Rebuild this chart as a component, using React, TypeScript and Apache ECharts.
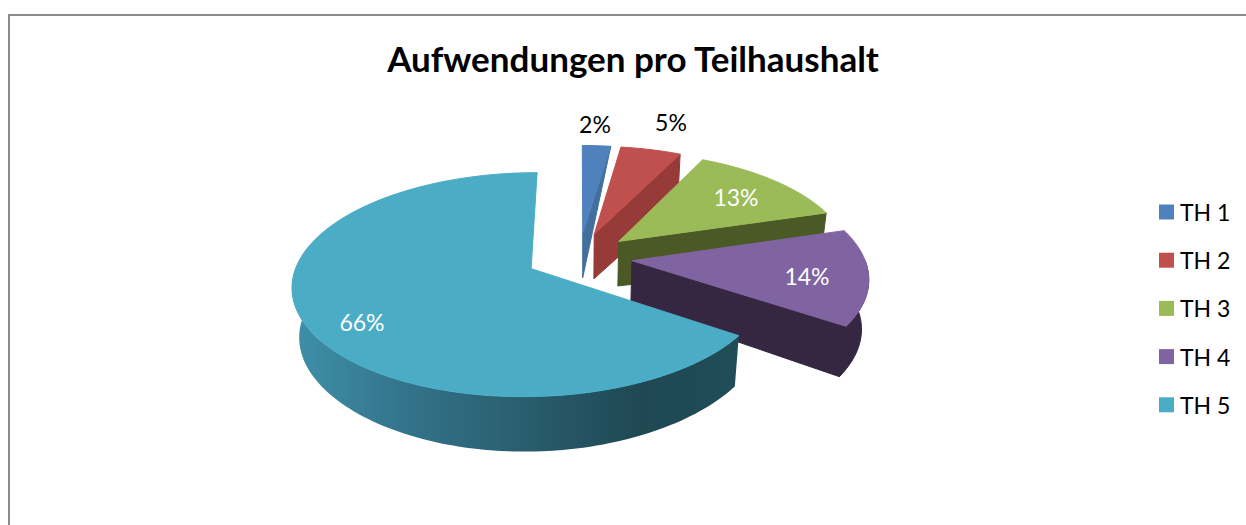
import React, { useEffect, useRef } from "react";
import * as echarts from "echarts";

const categories = ["TH 1", "TH 2", "TH 3", "TH 4", "TH 5"];
const values = [2.3, 4.9, 13.1, 14.2, 65.5];

const topColors = ["#4F81BD", "#C0504D", "#9BBB59", "#8064A2", "#4BACC6"];
const faceColors = ["#436F9F", "#973B39", "#4A5925", "#352641", "#1F4A55"];
const labelColors = ["#000000", "#000000", "#ffffff", "#ffffff", "#ffffff"];
const labelAnchors = [[595, 124], [671, 122], [736, 197], [807, 276], [362, 322]];

const FONT = "Lato, Carlito, Calibri, sans-serif";
const CX = 579, CY = 257, RX = 232, KY = 106.4, PERSP = 0.141, EXPLODE = 0.23;
const total = values.reduce((a, b) => a + b, 0);
const toRad = (d: number) => (d * Math.PI) / 180;

function project(X: number, Y: number, z: number) {
  const denom = 1 - PERSP * Y;
  return [
    CX + ((RX * X) / denom) * (1 - 0.025 * z),
    CY + (KY * Y) / denom + z * (49.5 + 4 * Math.pow(Math.max(0, Y), 3)),
  ];
}

function makeRenderItem(index: number) {
  return () => {
    const before = values.slice(0, index).reduce((a, b) => a + b, 0);
    const a1 = (before / total) * 360;
    const a2 = ((before + values[index]) / total) * 360;
    const mid = toRad((a1 + a2) / 2);
    const ox = Math.sin(mid) * EXPLODE;
    const oy = -Math.cos(mid) * EXPLODE;
    const rim = (deg: number, z: number) =>
      project(ox + Math.sin(toRad(deg)), oy - Math.cos(toRad(deg)), z);
    const apex = (z: number) => project(ox, oy, z * 0.9);
    const arc = (from: number, to: number, z: number) => {
      const out: number[][] = [];
      const n = Math.max(2, Math.ceil(Math.abs(to - from) / 1.5));
      for (let i = 0; i <= n; i++) out.push(rim(from + ((to - from) * i) / n, z));
      return out;
    };
    const children: any[] = [];
    // cut face at the end angle
    if (a2 < 180) {
      const pts =
        a2 - a1 < 15
          ? [apex(0), rim(a2, 0), apex(1)]
          : [apex(0), rim(a2, 0), rim(a2, 1), apex(1)];
      children.push({
        type: "polygon",
        shape: { points: pts },
        style: { fill: faceColors[index], stroke: faceColors[index], lineWidth: 1 },
      });
    }
    // outer wall (front part of the rim)
    const w1 = Math.max(a1, 90), w2 = Math.min(a2, 270);
    if (w2 > w1) {
      const fill =
        index === 4
          ? {
              type: "linear", x: 0, y: 0, x2: 1, y2: 0,
              colorStops: [
                { offset: 0, color: "#3F90AA" },
                { offset: 0.25, color: "#33748B" },
                { offset: 0.5, color: "#2A5F70" },
                { offset: 0.78, color: "#1F4853" },
                { offset: 1, color: "#1F4D58" },
              ],
            }
          : faceColors[index];
      children.push({
        type: "polygon",
        shape: { points: [...arc(w1, w2, 0), ...arc(w2, w1, 1)] },
        style: { fill, stroke: index === 4 ? undefined : faceColors[index], lineWidth: 1 },
      });
    }
    // top surface
    children.push({
      type: "polygon",
      shape: { points: [apex(0), ...arc(a1, a2, 0)] },
      style: { fill: topColors[index], stroke: topColors[index], lineWidth: 1 },
    });
    children.push({
      type: "text",
      style: {
        text: Math.round((values[index] / total) * 100) + "%",
        x: labelAnchors[index][0],
        y: labelAnchors[index][1],
        fill: labelColors[index],
        font: `23px ${FONT}`,
        textAlign: "center",
        textVerticalAlign: "middle",
      },
    });
    return { type: "group", children };
  };
}

export default function App() {
  const ref = useRef<HTMLDivElement>(null);
  useEffect(() => {
    document.body.style.margin = "0";
    const chart = echarts.init(ref.current!, null, { renderer: "svg" });
    chart.setOption({
      animation: false,
      backgroundColor: "#ffffff",
      title: {
        text: "Aufwendungen pro Teilhaushalt",
        left: 628,
        top: 33,
        textAlign: "center",
        textStyle: { fontFamily: FONT, fontWeight: "bold", fontSize: 35, color: "#000000", lineHeight: 40 },
      },
      legend: {
        orient: "vertical",
        left: 1159,
        top: 197,
        padding: 0,
        itemWidth: 15,
        itemHeight: 15,
        itemGap: 18.2,
        icon: "rect",
        selectedMode: false,
        data: categories,
        textStyle: { fontFamily: FONT, fontSize: 23, color: "#000000", lineHeight: 30, padding: [0, 0, 0, 1] },
      },
      graphic: [
        { type: "line", shape: { x1: 9, y1: 15, x2: 1246, y2: 15 }, style: { stroke: "#8C8C8C", lineWidth: 2 } },
        { type: "line", shape: { x1: 9, y1: 14, x2: 9, y2: 525 }, style: { stroke: "#8C8C8C", lineWidth: 2 } },
      ],
      series: categories.map((name, i) => ({
        type: "custom",
        name,
        coordinateSystem: "none",
        itemStyle: { color: topColors[i] },
        data: [[values[i]]],
        renderItem: makeRenderItem(i),
      })),
    });
    return () => chart.dispose();
  }, []);
  return <div ref={ref} style={{ position: "fixed", left: 0, top: 0, width: 1246, height: 525 }} />;
}
